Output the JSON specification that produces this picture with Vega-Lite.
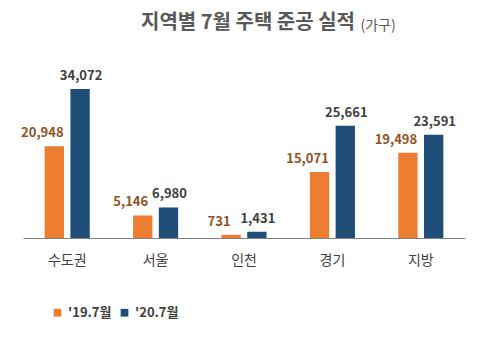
{
  "$schema": "https://vega.github.io/schema/vega-lite/v6.json",
  "autosize": {"type": "none"},
  "width": 442,
  "height": 175,
  "padding": {"left": 23, "top": 63, "right": 15, "bottom": 108},
  "background": "white",
  "config": {
    "view": {"stroke": null},
    "font": "Noto Sans CJK KR"
  },
  "title": {
    "text": "지역별 7월 주택 준공 실적",
    "fontSize": 20,
    "fontWeight": "bold",
    "color": "#595959",
    "anchor": "middle",
    "dx": 4,
    "offset": -15
  },
  "data": {
    "values": [
      {"region": "수도권", "period": "'19.7월", "value": 20948},
      {"region": "수도권", "period": "'20.7월", "value": 34072},
      {"region": "서울", "period": "'19.7월", "value": 5146},
      {"region": "서울", "period": "'20.7월", "value": 6980},
      {"region": "인천", "period": "'19.7월", "value": 731},
      {"region": "인천", "period": "'20.7월", "value": 1431},
      {"region": "경기", "period": "'19.7월", "value": 15071},
      {"region": "경기", "period": "'20.7월", "value": 25661},
      {"region": "지방", "period": "'19.7월", "value": 19498},
      {"region": "지방", "period": "'20.7월", "value": 23591}
    ]
  },
  "encoding": {
    "x": {
      "field": "region",
      "type": "nominal",
      "sort": null,
      "scale": {"paddingInner": 0.49, "paddingOuter": 0.245},
      "axis": {
        "title": null,
        "labelAngle": 0,
        "labelFontSize": 14,
        "labelColor": "#404040",
        "labelPadding": 15,
        "ticks": false,
        "domainColor": "#808080",
        "domainWidth": 1
      }
    },
    "xOffset": {
      "field": "period",
      "type": "nominal",
      "sort": ["'19.7월", "'20.7월"],
      "scale": {"paddingInner": 0.25, "paddingOuter": 0}
    },
    "y": {
      "field": "value",
      "type": "quantitative",
      "scale": {"domain": [0, 40000]},
      "axis": {
        "title": "(가구)",
        "titleAngle": 0,
        "titleFontSize": 14,
        "titleFontWeight": "normal",
        "titleColor": "#595959",
        "titleX": 337,
        "titleY": -38,
        "titleAlign": "left",
        "titleBaseline": "middle",
        "labels": false,
        "ticks": false,
        "domain": false,
        "grid": false
      }
    }
  },
  "layer": [
    {
      "mark": {"type": "bar"},
      "encoding": {
        "color": {
          "field": "period",
          "type": "nominal",
          "scale": {"domain": ["'19.7월", "'20.7월"], "range": ["#ED7D31", "#1F4E79"]},
          "legend": {
            "title": null,
            "orient": "none",
            "direction": "horizontal",
            "legendX": 28,
            "legendY": 243,
            "symbolType": "square",
            "symbolSize": 60,
            "symbolStrokeWidth": 0,
            "labelFontSize": 13,
            "labelFontWeight": "bold",
            "labelColor": "#404040",
            "columnPadding": 6,
            "labelOffset": 4
          }
        }
      }
    },
    {
      "transform": [{"filter": "datum.period === \"'19.7월\""}],
      "mark": {"type": "text", "baseline": "bottom", "dy": -6, "dx": -12, "fontSize": 13, "fontWeight": "bold", "color": "#91521F"},
      "encoding": {
        "text": {"field": "value", "type": "quantitative", "format": ","}
      }
    },
    {
      "transform": [{"filter": "datum.period === \"'20.7월\""}],
      "mark": {"type": "text", "baseline": "bottom", "dy": -6, "dx": 1, "fontSize": 13, "fontWeight": "bold", "color": "#404040"},
      "encoding": {
        "text": {"field": "value", "type": "quantitative", "format": ","}
      }
    }
  ]
}
